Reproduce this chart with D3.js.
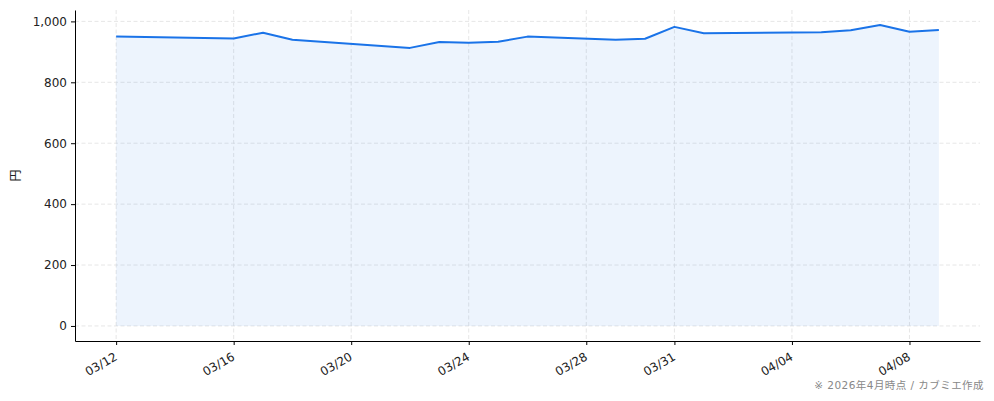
<!DOCTYPE html>
<head>
  <meta charset="utf-8" />
  <script src="https://d3js.org/d3.v7.min.js"></script>
  <style>
    body { margin: 0; background: #fff; }
    text { font-family: "DejaVu Sans", "Noto Sans CJK JP", sans-serif; }
  </style>
</head>
<body>
  <script>
    // 日付（表示ラベル）と終値
    var dates = ["2026-03-12", "2026-03-16", "2026-03-17", "2026-03-18", "2026-03-22",
                 "2026-03-23", "2026-03-24", "2026-03-25", "2026-03-26", "2026-03-29",
                 "2026-03-30", "2026-03-31", "2026-04-01", "2026-04-05", "2026-04-06",
                 "2026-04-07", "2026-04-08", "2026-04-09"];
    var prices = [950, 944, 963, 940, 913, 932, 930, 933, 950, 940,
                  943, 982, 961, 964, 971, 988, 966, 972];
    var tickDates = ["2026-03-12", "2026-03-16", "2026-03-20", "2026-03-24",
                     "2026-03-28", "2026-03-31", "2026-04-04", "2026-04-08"];
    var yTicks = [0, 200, 400, 600, 800, 1000];

    var width = 994, height = 401;
    var margin = { left: 75, right: 14, top: 10, bottom: 60 };

    var parse = d3.utcParse("%Y-%m-%d");
    var data = dates.map(function (d, i) { return { date: parse(d), value: prices[i] }; });

    var svg = d3.select("body").append("svg")
      .attr("width", width).attr("height", height);

    // matplotlib 風の 5% マージン
    var x0 = data[0].date, x1 = data[data.length - 1].date;
    var pad = (x1 - x0) * 0.05;
    var x = d3.scaleUtc()
      .domain([new Date(+x0 - pad), new Date(+x1 + pad)])
      .range([margin.left, width - margin.right]);

    var yMax = d3.max(prices);
    var y = d3.scaleLinear()
      .domain([-yMax * 0.05, yMax * 1.05])
      .range([height - margin.bottom, margin.top]);

    var ticks = tickDates.map(parse);

    // グリッド
    svg.append("g").selectAll("line.gy").data(yTicks).join("line")
      .attr("x1", margin.left).attr("x2", width - margin.right)
      .attr("y1", function (d) { return y(d); }).attr("y2", function (d) { return y(d); })
      .attr("stroke", "#e3e3e3").attr("stroke-dasharray", "4,2.5").attr("stroke-width", 0.9);
    svg.append("g").selectAll("line.gx").data(ticks).join("line")
      .attr("x1", function (d) { return x(d); }).attr("x2", function (d) { return x(d); })
      .attr("y1", margin.top).attr("y2", height - margin.bottom)
      .attr("stroke", "#e3e3e3").attr("stroke-dasharray", "4,2.5").attr("stroke-width", 0.9);

    // 塗り
    var area = d3.area()
      .x(function (d) { return x(d.date); })
      .y0(y(0))
      .y1(function (d) { return y(d.value); });
    svg.append("path").datum(data)
      .attr("d", area)
      .attr("fill", "#1a73e8").attr("fill-opacity", 0.08);

    var line = d3.line()
      .x(function (d) { return x(d.date); })
      .y(function (d) { return y(d.value); });
    svg.append("path").datum(data)
      .attr("d", line)
      .attr("fill", "none")
      .attr("stroke", "#1a73e8")
      .attr("stroke-width", 2)
      .attr("stroke-linejoin", "round");

    // 軸
    var xAxis = svg.append("g")
      .attr("transform", "translate(0," + (height - margin.bottom) + ")")
      .call(d3.axisBottom(x).tickValues(ticks).tickFormat(d3.utcFormat("%m/%d"))
        .tickSize(4).tickSizeOuter(0));
    xAxis.select(".domain").attr("stroke", "#000");
    xAxis.selectAll(".tick line").attr("stroke", "#000");
    xAxis.selectAll(".tick text")
      .attr("font-size", 12)
      .attr("fill", "#222")
      .attr("text-anchor", "end")
      .attr("dx", 0).attr("dy", 0)
      .attr("transform", "translate(-2,12) rotate(-30)");

    var yAxis = svg.append("g")
      .attr("transform", "translate(" + margin.left + ",0)")
      .call(d3.axisLeft(y).tickValues(yTicks).tickFormat(d3.format(","))
        .tickSize(4).tickSizeOuter(0));
    yAxis.select(".domain").attr("stroke", "#000");
    yAxis.selectAll(".tick text")
      .attr("font-size", 12)
      .attr("fill", "#222")
      .attr("x", -8);
    yAxis.selectAll(".tick line").attr("stroke", "#000");

    svg.append("text")
      .attr("transform", "translate(20," + ((margin.top + height - margin.bottom) / 2) + ") rotate(-90)")
      .attr("text-anchor", "middle")
      .attr("font-size", 12)
      .attr("fill", "#222")
      .text("円");

    svg.append("text")
      .attr("x", width - 10).attr("y", 389)
      .attr("text-anchor", "end")
      .attr("font-size", 10.5)
      .attr("letter-spacing", 0.45)
      .attr("fill", "#888")
      .text("※ 2026年4月時点 / カブミエ作成");
  </script>
</body>
